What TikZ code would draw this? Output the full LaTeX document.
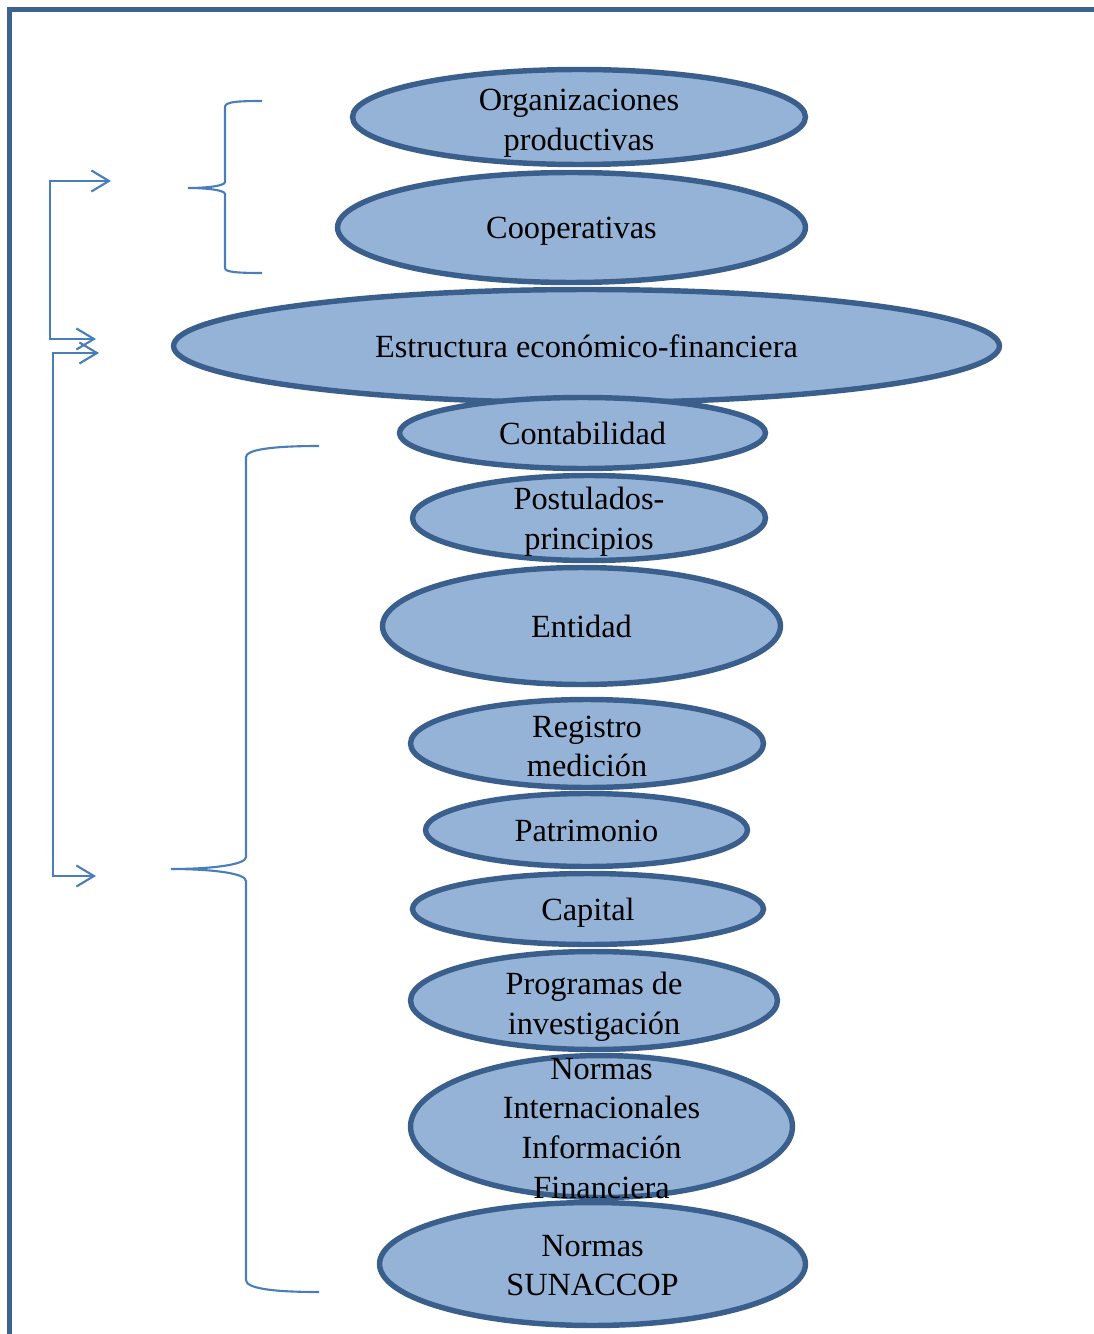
\documentclass[tikz,border=0pt]{standalone}
\usepackage{fontspec}
\setmainfont{Liberation Serif}
\usetikzlibrary{shapes.geometric,arrows.meta}

\definecolor{ellfill}{HTML}{95B3D7}
\definecolor{ellline}{HTML}{3A5F8C}
\definecolor{framecol}{HTML}{3C6291}
\definecolor{bracecol}{HTML}{4A7EBB}

\tikzset{
  ell/.style={ellipse, draw=ellline, fill=ellfill, line width=3.1pt, inner sep=0pt, outer sep=0pt},
  txt/.style={align=center, inner sep=0pt, font=\fontsize{18.4}{22.7}\selectfont},
  frameline/.style={draw=framecol, line width=2.8pt, line join=miter},
  bracel/.style={draw=bracecol, line width=1.2pt},
  conn/.style={draw=bracecol, line width=1.2pt,
    {Straight Barb[length=10pt,width=12pt]}-{Straight Barb[length=10pt,width=12pt]}}
}

\begin{document}
\begin{tikzpicture}[x=0.02cm,y=-0.02cm]
\useasboundingbox (0,0) rectangle (1094,1334);

% outer frame (top and left sides)
\draw[frameline] (1110,9.5) -- (9.8,9.5) -- (9.8,1350);

% stacked ellipses with their labels
\node[ell, minimum width=9.06cm, minimum height=1.90cm] (e1) at (579,117) {};
\node[txt, yshift=-3.4pt] (t1) at (e1.center) {Organizaciones\\productivas};

\node[ell, minimum width=9.36cm, minimum height=2.20cm] (e2) at (571.5,227.5) {};
\node[txt, yshift=-2.3pt] (t2) at (e2.center) {Cooperativas};

\node[ell, minimum width=16.52cm, minimum height=2.26cm] (e3) at (586.5,346) {};
\node[txt] (t3) at (e3.center) {Estructura económico-financiera};

\node[ell, minimum width=7.32cm, minimum height=1.42cm] (e4) at (582.5,433) {};
\node[txt] (t4) at (e4.center) {Contabilidad};

\node[ell, minimum width=7.06cm, minimum height=1.70cm] (e5) at (589,518) {};
\node[txt, yshift=-2.3pt] (t5) at (e5.center) {Postulados-\\principios};

\node[ell, minimum width=7.96cm, minimum height=2.34cm] (e6) at (581.5,626) {};
\node[txt] (t6) at (e6.center) {Entidad};

\node[ell, minimum width=7.06cm, minimum height=1.76cm] (e7) at (587,743.5) {};
\node[txt, yshift=-1.7pt] (t7) at (e7.center) {Registro\\medición};

\node[ell, minimum width=6.44cm, minimum height=1.46cm] (e8) at (586.5,830) {};
\node[txt, yshift=-0.6pt] (t8) at (e8.center) {Patrimonio};

\node[ell, minimum width=7.02cm, minimum height=1.42cm] (e9) at (588,909) {};
\node[txt, yshift=-2.3pt] (t9) at (e9.center) {Capital};

\node[ell, minimum width=7.34cm, minimum height=1.96cm] (e10) at (594,1000.5) {};
\node[txt, yshift=-3.4pt] (t10) at (e10.center) {Programas de\\investigación};

\node[ell, minimum width=7.64cm, minimum height=2.84cm] (e11) at (601.5,1126.5) {};
\node[txt, yshift=-1.1pt] (t11) at (e11.center) {Normas\\Internacionales\\Información\\Financiera};

\node[ell, minimum width=8.52cm, minimum height=2.46cm] (e12) at (592.5,1264) {};
\node[txt, yshift=-0.9pt] (t12) at (e12.center) {Normas\\SUNACCOP};

% upper brace
\draw[bracel] (262,101) .. controls (236,101) and (225,102) .. (225,107)
  -- (225,182) .. controls (225,186) and (206,188) .. (188,188)
  .. controls (206,188) and (225,190) .. (225,194)
  -- (225,268) .. controls (225,272) and (236,273) .. (262,273);

% lower brace
\draw[bracel] (319,446) .. controls (270,446) and (246,450) .. (246,457)
  -- (246,857) .. controls (246,865) and (210,869) .. (171,869)
  .. controls (210,869) and (246,873) .. (246,881)
  -- (246,1280) .. controls (246,1288) and (270,1292) .. (319,1292);

% bracket connectors with open arrowheads
\coordinate (a1) at (111,181);
\coordinate (k1) at (50,181);
\coordinate (a2) at (96,339);
\coordinate (a3) at (99,353);
\coordinate (k3) at (53,353);
\coordinate (a4) at (96,876);
\draw[conn] (a1) -- (k1) |- (a2);
\draw[conn] (a3) -- (k3) |- (a4);
\end{tikzpicture}
\end{document}
